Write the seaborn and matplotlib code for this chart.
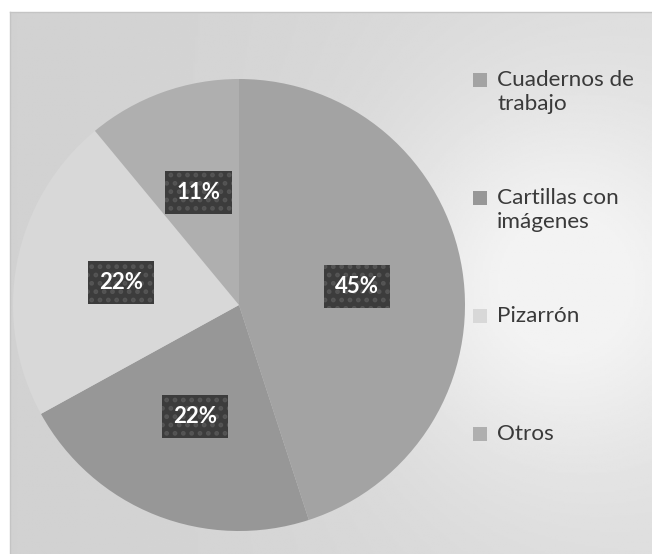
import numpy as np
import matplotlib
matplotlib.use("Agg")
import matplotlib.pyplot as plt
from matplotlib.patches import Rectangle
import seaborn as sns

# Data
categories = ["Cuadernos de\ntrabajo", "Cartillas con\nimágenes", "Pizarrón", "Otros"]
shares = [45, 22, 22, 11]
slice_colors = ["#a3a3a3", "#979797", "#d8d8d8", "#afafaf"]

sns.set_theme(style="white")
plt.rcParams["font.family"] = ["Lato", "DejaVu Sans"]

W, H = 652, 554
fig = plt.figure(figsize=(W / 100, H / 100), dpi=100)
fig.patch.set_facecolor("white")

# Chart area background: soft grey shading inside a thin frame
bg = fig.add_axes([10 / W, -2 / H, (W - 9) / W, (H - 10) / H])
xs = np.linspace(0, 1, 300)
ys = np.linspace(0, 1, 300)
X, Y = np.meshgrid(xs, ys)
grad = 0.82 + 0.04 * X + 0.11 * np.exp(-((X - 0.85) ** 2) / 0.08 - ((Y - 0.5) ** 2) / 0.12)
grad = np.clip(grad, 0, 0.95)
bg.imshow(grad, cmap="gray", vmin=0, vmax=1, aspect="auto", extent=[0, 1, 0, 1])
bg.set_xticks([]); bg.set_yticks([])
for s in bg.spines.values():
    s.set_color("#c4c4c4"); s.set_linewidth(1.0)

# Pie
cx, cy, r = 239, H - 305, 226
ax = fig.add_axes([(cx - r) / W, (cy - r) / H, 2 * r / W, 2 * r / H])
ax.set_facecolor("none")
wedges, texts, autotexts = ax.pie(
    shares,
    colors=slice_colors,
    startangle=90,
    counterclock=False,
    autopct=lambda p: f"{p:.0f}%",
    pctdistance=0.53,
    wedgeprops=dict(linewidth=0),
    textprops=dict(color="white", fontsize=16, fontweight="bold"),
)
plt.rcParams["hatch.linewidth"] = 2.2
for t in autotexts:
    t.set_bbox(dict(boxstyle="square,pad=0.5", fc="#3c3c3c", ec="#555555",
                    hatch="..", lw=0))
ax.set_xlim(-1, 1)
ax.set_ylim(-1, 1)
ax.axis("off")

# Legend
lx, ly0, step = 480, 80, 118
for i, (lab, col) in enumerate(zip(categories, slice_colors)):
    y = ly0 + i * step
    fig.patches.append(Rectangle(((lx - 7) / W, (H - y - 7) / H), 14 / W, 14 / H,
                                 transform=fig.transFigure, fc=col, ec="none"))
    fig.text((lx + 17) / W, (H - y + 10) / H, lab, fontsize=16.2, color="#3a3a3a",
             va="top", ha="left", linespacing=1.22,
             transform=fig.transFigure)

fig.savefig("out.png", dpi=100)
